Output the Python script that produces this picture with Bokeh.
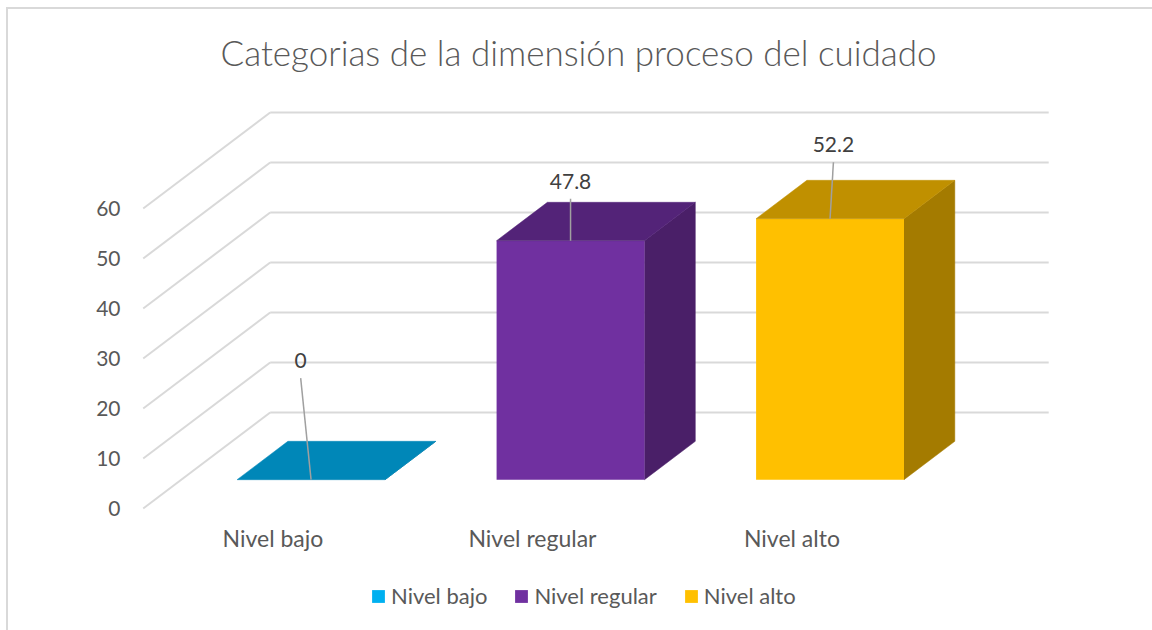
from bokeh.plotting import figure
from bokeh.models import Range1d, LinearAxis, FixedTicker, Legend, LegendItem, Title
from bokeh.embed import file_html
from bokeh.resources import INLINE
from bokeh.core.properties import value

# ---------------- data ----------------
categories = ["Nivel bajo", "Nivel regular", "Nivel alto"]
values = [0, 47.8, 52.2]
y_ticks = [0, 10, 20, 30, 40, 50, 60]
title_text = "Categorias de la dimensión proceso del cuidado"

# ---------------- style ----------------
front_colors = ["#00B0F0", "#7030A0", "#FFC000"]
top_colors = ["#0087B8", "#532378", "#C09000"]
side_colors = ["#00739C", "#4A1F68", "#A47B00"]
grid_color = "#D9D9D9"
text_color = "#595959"
label_color = "#404040"
FONT = "Lato"

# data-label placement (value units above bar top / category-unit shift)
label_rise = [23.8, 11.9, 14.8]
label_shift = [-0.04, 0.0, 0.013]
CAT_LABEL_Y = -5.8   # category labels, value units below the front floor edge

W, H = 1152, 630
FL, FR, FT, FB = 137, 1100, 100, 630      # frame edges in px
X0 = 142.7                                 # px of front-left corner
CAT_PX = 259.5                             # px per category
Y0 = 508                                   # px of value 0 at front
VAL_PX = 5.0                               # px per value unit
x_start, x_end = (FL - X0) / CAT_PX, (FR - X0) / CAT_PX
y_start, y_end = (Y0 - FB) / VAL_PX, (Y0 - FT) / VAL_PX

# oblique depth projection (full depth of the floor)
DX = 127 / CAT_PX
DY = 96 / VAL_PX
def proj(x, y, d):
    return x + d * DX, y + d * DY

BAR_W = 0.57
D0, D1 = 0.3, 0.7

p = figure(width=W, height=H, x_range=Range1d(x_start, x_end), y_range=Range1d(y_start, y_end),
           output_backend="svg", toolbar_location=None, x_axis_type=None, y_axis_type=None,
           min_border_left=FL, min_border_right=W - FR, min_border_top=FT, min_border_bottom=H - FB)
p.outline_line_color = None
p.background_fill_color = "white"
p.border_fill_alpha = 0
# thin chart-area border (left and top edges)
p.styles = {
    "background-color": "white",
    "background-image": "linear-gradient(#D9D9D9, #D9D9D9), linear-gradient(#D9D9D9, #D9D9D9)",
    "background-position": "6px 7px, 6px 7px",
    "background-size": "2px 100%, 100% 2px",
    "background-repeat": "no-repeat",
}

n = len(categories)
# back wall gridlines and side wall lines
for v in y_ticks:
    bx0, by = proj(0, v, 1)
    bx1, _ = proj(n, v, 1)
    p.line([bx0, bx1], [by, by], line_color=grid_color, line_width=2)
    p.line([0, bx0], [v, by], line_color=grid_color, line_width=2)

front_renderers = []
for i, (c, v) in enumerate(zip(categories, values)):
    cx = i + 0.5
    xl, xr = cx - BAR_W / 2, cx + BAR_W / 2
    # side face
    pts = [proj(xr, 0, D0), proj(xr, 0, D1), proj(xr, v, D1), proj(xr, v, D0)]
    p.patch([q[0] for q in pts], [q[1] for q in pts], fill_color=side_colors[i], line_color=side_colors[i], line_width=0.5)
    # front face
    pts = [proj(xl, 0, D0), proj(xr, 0, D0), proj(xr, v, D0), proj(xl, v, D0)]
    r = p.patch([q[0] for q in pts], [q[1] for q in pts], fill_color=front_colors[i], line_color=None)
    front_renderers.append(r)
    # top face
    pts = [proj(xl, v, D0), proj(xr, v, D0), proj(xr, v, D1), proj(xl, v, D1)]
    p.patch([q[0] for q in pts], [q[1] for q in pts], fill_color=top_colors[i], line_color=top_colors[i], line_width=0.5)

# data labels with leader lines
lx, ly, lt = [], [], []
for i, v in enumerate(values):
    cx = i + 0.5
    tx, ty = proj(cx, v, D0)
    lxx = tx + label_shift[i]
    lyy = ty + label_rise[i]
    p.line([lxx, tx], [lyy - 3.5, ty], line_color="#A0A0A0", line_width=1.5)
    lx.append(lxx); ly.append(lyy); lt.append(f"{v:g}")
p.text(x=lx, y=ly, text=lt, text_align="center", text_baseline="middle",
       text_font=value(FONT), text_font_size="21px", text_color=label_color)

# category labels at the front floor edge
p.text(x=[i + 0.5 for i in range(n)], y=[CAT_LABEL_Y] * n, text=categories,
       text_align="center", text_baseline="middle",
       text_font=value(FONT), text_font_size="23px", text_color=text_color)

# value axis
yaxis = LinearAxis(ticker=FixedTicker(ticks=y_ticks), axis_line_color=None,
                   major_tick_line_color=None, minor_tick_line_color=None,
                   major_tick_in=0, major_tick_out=0, major_label_standoff=17,
                   major_label_text_font=FONT, major_label_text_font_size="21px",
                   major_label_text_color=text_color)
p.add_layout(yaxis, "left")

legend = Legend(items=[LegendItem(label=c, renderers=[r]) for c, r in zip(categories, front_renderers)],
                orientation="horizontal", location=(233, 21), border_line_color=None,
                background_fill_alpha=0, glyph_width=16, glyph_height=16, label_standoff=5,
                spacing=26, padding=0, margin=0, label_text_font=FONT,
                label_text_font_size="22px", label_text_color=text_color)
p.add_layout(legend, "center")

p.title = Title(text=title_text, align="left", offset=83, standoff=56,
                text_font="Lato Light, Lato", text_font_size="35px", text_font_style="normal",
                text_color=text_color)

open("out.html", "w").write(file_html(p, INLINE))
